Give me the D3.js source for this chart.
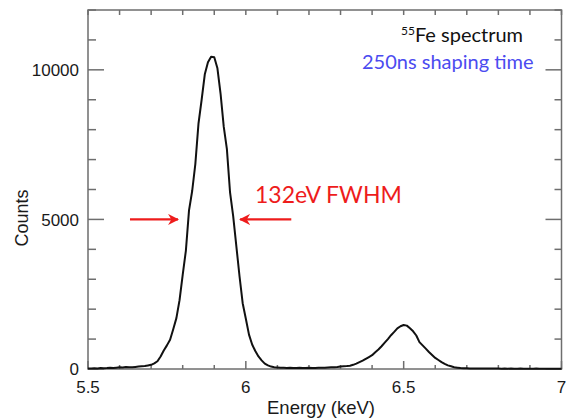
<!DOCTYPE html>
<html>
<head>
<meta charset="utf-8">
<script src="https://cdn.jsdelivr.net/npm/d3@7"></script>
<style>
  body { margin: 0; background: #fff; }
  svg { display: block; }
</style>
</head>
<body>
<div id="main"></div>
<script>
// DATA
// energy bins, keV (0.01 keV step)
var energy = d3.range(151).map(i => +(5.5 + i * 0.01).toFixed(2))

// counts per bin, 5.50 -> 7.00
var counts = [
  20, 20, 25, 20, 30, 25, 30, 40, 30, 45,          // 5.50-5.59
  60, 50, 70, 55, 60, 70, 80, 90, 100, 120,        // 5.60-5.69
  140, 190, 260, 420, 620, 790, 980, 1330, 1700, 2300,   // 5.70-5.79
  3150, 3950, 5300, 5950, 6850, 8200, 9000, 9850, 10250, 10440, // 5.80-5.89
  10420, 10050, 9200, 8100, 7350, 5900, 5100, 4100, 3100, 2200, // 5.90-5.99
  1680, 1150, 820, 600, 420, 290, 180, 120, 80, 60,      // 6.00-6.09
  50, 40, 45, 35, 40, 30, 35, 40, 30, 35,          // 6.10-6.19
  40, 35, 30, 40, 45, 40, 50, 55, 60, 70,          // 6.20-6.29
  85, 95, 100, 110, 140, 180, 230, 280, 340, 400,  // 6.30-6.39
  460, 560, 650, 760, 880, 1000, 1130, 1240, 1360, 1430, // 6.40-6.49
  1470, 1450, 1360, 1260, 1120, 900, 790, 680, 570, 470, // 6.50-6.59
  370, 300, 230, 170, 120, 90, 60, 45, 30, 25,     // 6.60-6.69
  25, 20, 20, 15, 20, 15, 15, 20, 15, 15,          // 6.70-6.79
  15, 10, 15, 10, 15, 10, 10, 15, 10, 10,          // 6.80-6.89
  10, 10, 15, 10, 10, 10, 10, 10, 10, 10,          // 6.90-6.99
  10                                               // 7.00
]

var xMajor = [5.5, 6, 6.5, 7]
var xLabels = ['5.5', '6', '6.5', '7']
var yMajor = [0, 5000, 10000]
var yMinor = d3.range(0, 12001, 1000)
var xMinor = d3.range(55, 71).map(d => d / 10)

// FWHM arrows: [tail energy, tip energy], at the half-max level
var fwhmLevel = 5000
var fwhmArrows = [[5.633, 5.785], [6.144, 5.982]]

// CHART
var width = 567, height = 419
var margin = {top: 10, right: 5.5, bottom: 50, left: 88}

var svg = d3.select('#main').append('svg')
  .attr('width', width)
  .attr('height', height)

var x = d3.scaleLinear().domain([5.5, 7]).range([margin.left, width - margin.right])
var y = d3.scaleLinear().domain([0, 12000]).range([height - margin.bottom, margin.top])

var axisColor = '#6e6e6e'
var tickFont = '"Liberation Sans", Arial, sans-serif'

var g = svg.append('g')

// ticks (all pointing inward)
g.selectAll('line.yminL').data(yMinor).join('line')
  .attr('x1', x(5.5)).attr('x2', d => x(5.5) + (yMajor.includes(d) ? 16 : 8))
  .attr('y1', d => y(d)).attr('y2', d => y(d))
  .attr('stroke', axisColor).attr('stroke-width', 1.5)
g.selectAll('line.yminR').data(yMinor).join('line')
  .attr('x1', x(7)).attr('x2', d => x(7) - (yMajor.includes(d) ? 16 : 7))
  .attr('y1', d => y(d)).attr('y2', d => y(d))
  .attr('stroke', axisColor).attr('stroke-width', 1.5)
g.selectAll('line.xB').data(xMinor).join('line')
  .attr('x1', d => x(d)).attr('x2', d => x(d))
  .attr('y1', y(0)).attr('y2', d => y(0) - (xMajor.some(m => Math.abs(m - d) < 1e-6) ? 8 : 4))
  .attr('stroke', axisColor).attr('stroke-width', 1.5)
g.selectAll('line.xT').data(xMinor).join('line')
  .attr('x1', d => x(d)).attr('x2', d => x(d))
  .attr('y1', y(12000)).attr('y2', y(12000) + 5)
  .attr('stroke', axisColor).attr('stroke-width', 1.5)

// frame
g.append('rect')
  .attr('x', x(5.5)).attr('y', y(12000))
  .attr('width', x(7) - x(5.5)).attr('height', y(0) - y(12000))
  .attr('fill', 'none').attr('stroke', axisColor).attr('stroke-width', 1.5)

// tick labels
g.selectAll('text.yl').data(yMajor).join('text')
  .attr('x', x(5.5) - 9).attr('y', d => y(d)).attr('dy', '0.36em')
  .attr('text-anchor', 'end')
  .style('font-family', tickFont).style('font-size', '17px').attr('fill', '#1a1a1a')
  .text(d => d)
g.selectAll('text.xl').data(xMajor).join('text')
  .attr('x', d => x(d)).attr('y', y(0) + 24)
  .attr('text-anchor', 'middle')
  .style('font-family', tickFont).style('font-size', '17px').attr('fill', '#1a1a1a')
  .text((d, i) => xLabels[i])

// axis titles
svg.append('text')
  .attr('x', 321).attr('y', 414)
  .attr('text-anchor', 'middle')
  .style('font-family', tickFont).style('font-size', '18.5px').attr('fill', '#1a1a1a')
  .text('Energy (keV)')
svg.append('text')
  .attr('transform', 'translate(28,218) rotate(-90)')
  .attr('text-anchor', 'middle')
  .style('font-family', tickFont).style('font-size', '18px').attr('fill', '#1a1a1a')
  .text('Counts')

// spectrum
var line = d3.line()
  .x((d, i) => x(energy[i]))
  .y(d => y(d))
svg.append('path')
  .datum(counts)
  .attr('d', line)
  .attr('fill', 'none')
  .attr('stroke', '#111')
  .attr('stroke-width', 2)
  .attr('stroke-linejoin', 'round')

// annotations
var noteFont = 'Lato, "Open Sans", sans-serif'
var t1 = svg.append('text')
  .attr('x', 401).attr('y', 42)
  .style('font-family', noteFont).style('font-size', '20px').attr('fill', '#111')
t1.append('tspan').attr('dy', '-7').style('font-size', '12px').text('55')
t1.append('tspan').attr('dy', '7').text('Fe spectrum')

svg.append('text')
  .attr('x', 362).attr('y', 69)
  .style('font-family', noteFont).style('font-size', '20px').attr('fill', '#4b4bf0')
  .text('250ns shaping time')

svg.append('text')
  .attr('x', 255).attr('y', 203)
  .style('font-family', noteFont).style('font-size', '23px').attr('fill', '#ee1c1c')
  .text('132eV FWHM')

svg.append('defs').append('marker')
  .attr('id', 'ah')
  .attr('viewBox', '0 0 10 10')
  .attr('refX', 9).attr('refY', 5)
  .attr('markerWidth', 5).attr('markerHeight', 5)
  .attr('markerUnits', 'strokeWidth')
  .attr('orient', 'auto')
  .append('path')
  .attr('d', 'M0,0 L10,5 L0,10 L3,5 Z')
  .attr('fill', '#ee1c1c')

svg.selectAll('line.fwhm').data(fwhmArrows).join('line')
  .attr('x1', d => x(d[0])).attr('x2', d => x(d[1]))
  .attr('y1', y(fwhmLevel)).attr('y2', y(fwhmLevel))
  .attr('stroke', '#ee1c1c').attr('stroke-width', 2.2)
  .attr('marker-end', 'url(#ah)')
</script>
</body>
</html>
